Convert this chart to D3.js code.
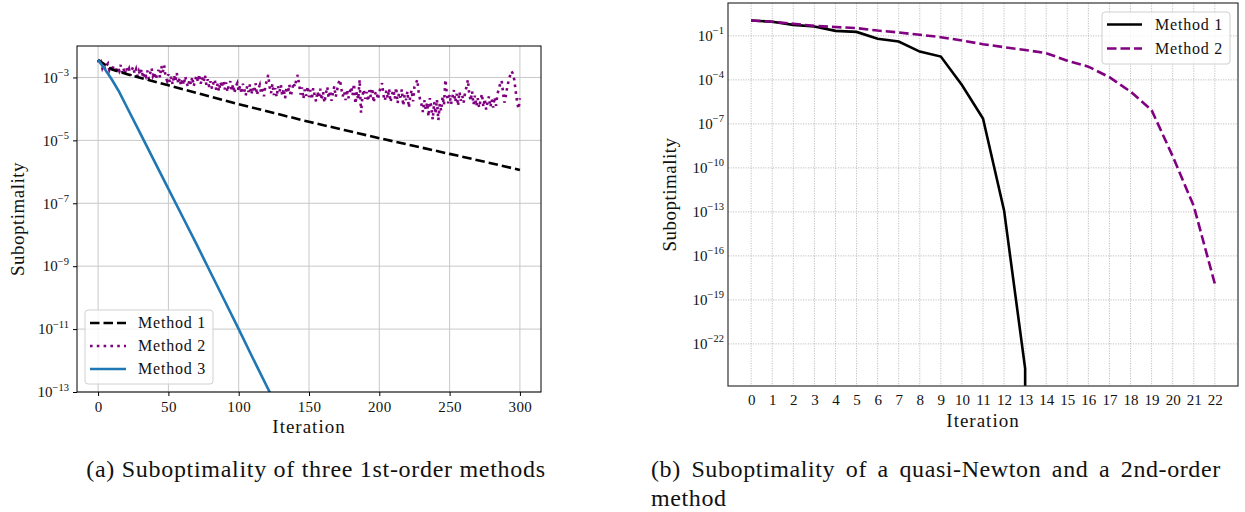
<!DOCTYPE html>
<head><meta charset="utf-8"/></head>
<style>
body { margin: 0; background: white; }
svg { display: block; }
text { font-family: "Liberation Serif", "DejaVu Serif", serif; fill: #111; }
.grid line { stroke: #c8c8c8; stroke-width: 1; }
.gridDot line { stroke: #b0b0b0; stroke-width: 0.8; stroke-dasharray: 1.2,1.3; }
</style>
<script src="https://d3js.org/d3.v7.min.js"></script>
<body>
<div id="fig"></div>
</body>
<script>

// ---- left chart data (first-order methods) ----
var leftXTicks = [0, 50, 100, 150, 200, 250, 300];
var leftYTicks = [-13, -11, -9, -7, -5, -3];   // exponents

var m1Iters = [0, 10, 25, 50, 75, 100, 125, 150, 175, 200, 225, 250, 275, 300];
var m1Log   = [-2.44, -2.75, -2.95, -3.25, -3.55, -3.85, -4.13, -4.41, -4.67, -4.93, -5.18, -5.43, -5.68, -5.94];

var m3Iters = [0, 5, 10, 15, 20, 30, 40, 50, 60, 70, 80, 90, 100, 110, 122, 130];
var m3Log   = [-2.44, -2.75, -3.08, -3.46, -3.9, -4.78, -5.66, -6.54, -7.42, -8.3, -9.2, -10.1, -11.0, -11.92, -13.0, -13.7];

// method 2: noisy, one value per iteration 0..300 (log10)
var m2Log = [
 -2.44,-2.60,-2.52,-2.70,-2.58,-2.74,-2.62,-2.56,-2.76,-2.64,
 -2.80,-2.62,-2.74,-2.86,-2.66,-2.78,-2.60,-2.84,-2.70,-2.90,
 -2.68,-2.82,-2.72,-2.94,-2.76,-2.66,-2.88,-2.74,-2.96,-2.80,
 -2.92,-2.74,-3.02,-2.84,-2.96,-2.78,-3.04,-2.88,-2.70,-2.94,
 -2.82,-3.06,-2.90,-2.76,-3.00,-2.64,-2.84,-2.62,-2.98,-3.10,
 -2.90,-3.16,-2.98,-3.22,-2.92,-3.12,-2.86,-3.20,-3.02,-3.26,
 -3.04,-3.24,-2.96,-3.18,-3.30,-3.06,-3.22,-2.98,-3.28,-3.10,
 -2.94,-3.14,-2.90,-3.20,-3.00,-3.16,-2.92,-3.24,-3.06,-3.30,
 -3.12,-3.36,-3.18,-3.06,-3.40,-3.20,-3.44,-3.14,-3.32,-3.10,
 -3.38,-3.16,-3.46,-3.24,-3.12,-3.42,-3.22,-3.50,-3.28,-3.18,
 -3.44,-3.26,-3.52,-3.20,-3.38,-3.58,-3.28,-3.46,-3.22,-3.54,
 -3.32,-3.48,-3.18,-3.56,-3.36,-3.24,-3.52,-3.30,-3.60,-3.26,
 -3.10,-2.92,-3.30,-3.50,-3.20,-3.56,-3.34,-3.62,-3.28,-3.46,
 -3.24,-3.58,-3.36,-3.66,-3.30,-3.50,-3.22,-3.60,-3.40,-3.16,
 -3.30,-3.06,-2.92,-3.24,-3.54,-3.32,-3.68,-3.38,-3.58,-3.28,
 -3.62,-3.40,-3.70,-3.34,-3.56,-3.76,-3.44,-3.64,-3.36,-3.72,
 -3.46,-3.80,-3.52,-3.30,-3.66,-3.42,-3.74,-3.50,-3.28,-3.62,
 -3.40,-3.18,-3.07,-3.36,-3.60,-3.44,-3.72,-3.38,-3.66,-3.48,
 -3.30,-3.56,-3.20,-3.84,-3.46,-3.70,-3.07,-4.12,-3.60,-3.38,
 -3.68,-3.46,-3.76,-3.40,-3.62,-3.34,-3.80,-3.52,-3.44,-3.70,
 -3.48,-3.30,-3.18,-3.58,-3.74,-3.42,-3.66,-3.36,-3.78,-3.54,
 -3.40,-3.68,-3.32,-3.82,-3.50,-3.64,-3.38,-3.90,-3.56,-3.72,
 -3.44,-3.96,-3.60,-3.40,-3.76,-3.30,-3.20,-3.07,-3.46,-3.70,
 -3.86,-4.10,-3.72,-4.02,-3.80,-4.24,-3.66,-3.94,-4.34,-3.78,
 -4.16,-3.70,-4.36,-3.84,-4.06,-3.60,-3.88,-3.07,-3.50,-3.82,
 -3.54,-3.86,-3.62,-3.40,-3.78,-3.52,-3.90,-3.46,-3.74,-3.58,
 -3.80,-3.48,-3.30,-3.07,-3.54,-3.74,-3.44,-3.86,-3.58,-3.92,
 -3.66,-3.96,-3.72,-3.52,-3.94,-3.68,-4.02,-3.76,-3.60,-3.94,
 -3.70,-3.96,-3.62,-3.90,-3.54,-3.36,-3.20,-3.10,-3.48,-3.80,
 -3.58,-3.30,-3.10,-2.94,-2.80,-2.88,-3.07,-3.44,-3.78,-4.00,-3.66
];

// ---- right chart data (quasi-Newton / 2nd order) ----
var rightXTicks = d3.range(0, 23);
var rightYTicks = [-22, -19, -16, -13, -10, -7, -4, -1];
var qnLog = [0.05, -0.04, -0.25, -0.36, -0.66, -0.73, -1.2, -1.39, -2.07, -2.41, -4.35, -6.63, -12.9, -23.68];
var qnZeroAt = 13;   // value hits exactly 0 after this (clipped on log axis)
var soLog = [0.05, -0.04, -0.18, -0.32, -0.4, -0.47, -0.64, -0.77, -0.93, -1.09, -1.32, -1.57, -1.77,
             -1.96, -2.18, -2.69, -3.1, -3.82, -4.8, -6.06, -9.2, -12.6, -17.9];

var W = 1245, H = 512;
var svg = d3.select("#fig").append("svg").attr("width", W).attr("height", H);

function supLabel(sel, e, size) {
    sel.text("");
    sel.append("tspan").text("10");
    sel.append("tspan").attr("dy", -size * 0.45).style("font-size", (size * 0.7) + "px").text("\u2212" + Math.abs(e));
}

// ================= LEFT =================
var L = {left: 77, right: 541, top: 46, bottom: 392};
var xL = d3.scaleLinear().domain([-15, 315]).range([L.left, L.right]);
var yL = d3.scaleLog().domain([1e-13, 1e-2]).range([L.bottom, L.top]);

svg.append("clipPath").attr("id", "clipL").append("rect")
    .attr("x", L.left).attr("y", L.top).attr("width", L.right - L.left).attr("height", L.bottom - L.top);

var gl = svg.append("g");
gl.append("g").attr("class", "grid").selectAll("line").data(leftXTicks).enter().append("line")
    .attr("x1", d => xL(d)).attr("x2", d => xL(d)).attr("y1", L.top).attr("y2", L.bottom);
gl.append("g").attr("class", "grid").selectAll("line").data(leftYTicks).enter().append("line")
    .attr("y1", d => yL(Math.pow(10, d))).attr("y2", d => yL(Math.pow(10, d))).attr("x1", L.left).attr("x2", L.right);

var lineL = d3.line().x(d => xL(d[0])).y(d => yL(Math.pow(10, d[1])));
var lines = gl.append("g").attr("clip-path", "url(#clipL)");

lines.append("path").datum(m2Log.map((v, i) => [i, v]))
    .attr("d", lineL).attr("fill", "none").attr("stroke", "#800080")
    .attr("stroke-width", 2.6).attr("stroke-dasharray", "2.6,4.2");
lines.append("path").datum(m1Iters.map((k, i) => [k, m1Log[i]]))
    .attr("d", lineL).attr("fill", "none").attr("stroke", "black")
    .attr("stroke-width", 2.6).attr("stroke-dasharray", "9.5,4");
lines.append("path").datum(m3Iters.map((k, i) => [k, m3Log[i]]))
    .attr("d", lineL).attr("fill", "none").attr("stroke", "#1f77b4").attr("stroke-width", 2.6);

// axes
gl.append("g").attr("transform", "translate(0," + L.bottom + ")")
    .call(d3.axisBottom(xL).tickValues(leftXTicks).tickSize(4).tickPadding(5))
    .call(g => g.select(".domain").remove())
    .selectAll("text").style("font-size", "15px").style("letter-spacing", "0.4px");
gl.append("g").attr("transform", "translate(" + L.left + ",0)")
    .call(d3.axisLeft(yL).tickValues(leftYTicks.map(e => Math.pow(10, e))).tickSize(4).tickPadding(4))
    .call(g => g.select(".domain").remove())
    .selectAll("text").style("font-size", "15px")
    .each(function(d) { supLabel(d3.select(this), Math.round(Math.log10(d)), 15); });
gl.append("rect").attr("x", L.left).attr("y", L.top).attr("width", L.right - L.left).attr("height", L.bottom - L.top)
    .attr("fill", "none").attr("stroke", "black").attr("stroke-width", 1);

gl.append("text").attr("x", (L.left + L.right) / 2).attr("y", 433).attr("text-anchor", "middle")
    .style("font-size", "19px").style("letter-spacing", "1px").text("Iteration");
gl.append("text").attr("transform", "translate(24," + (L.top + L.bottom) / 2 + ") rotate(-90)")
    .attr("text-anchor", "middle").style("font-size", "19px").style("letter-spacing", "0.5px").text("Suboptimality");

// legend
var legL = gl.append("g").attr("transform", "translate(85,310)");
legL.append("rect").attr("width", 128).attr("height", 74).attr("rx", 3)
    .attr("fill", "white").attr("fill-opacity", 0.8).attr("stroke", "#d0d0d0");
var legItemsL = [
    {name: "Method 1", color: "black", dash: "9.5,4"},
    {name: "Method 2", color: "#800080", dash: "2.6,4.2"},
    {name: "Method 3", color: "#1f77b4", dash: null}
];
legItemsL.forEach(function(it, i) {
    var y = 13 + i * 23;
    legL.append("line").attr("x1", 5).attr("x2", 41).attr("y1", y).attr("y2", y)
        .attr("stroke", it.color).attr("stroke-width", 2.6).attr("stroke-dasharray", it.dash);
    legL.append("text").attr("x", 53).attr("y", y + 5).style("font-size", "16px")
        .style("letter-spacing", "0.8px").text(it.name);
});

// ================= RIGHT =================
var R = {left: 728, right: 1238, top: 3, bottom: 386};
var xR = d3.scaleLinear().domain([-1.1, 23.1]).range([R.left, R.right]);
var yR = d3.scaleLog().domain([Math.pow(10, -24.87), Math.pow(10, 1.24)]).range([R.bottom, R.top]);

svg.append("clipPath").attr("id", "clipR").append("rect")
    .attr("x", R.left).attr("y", R.top).attr("width", R.right - R.left).attr("height", R.bottom - R.top);

var gr = svg.append("g");
gr.append("g").attr("class", "gridDot").selectAll("line").data(rightXTicks).enter().append("line")
    .attr("x1", d => xR(d)).attr("x2", d => xR(d)).attr("y1", R.top).attr("y2", R.bottom);
gr.append("g").attr("class", "gridDot").selectAll("line").data(rightYTicks).enter().append("line")
    .attr("y1", d => yR(Math.pow(10, d))).attr("y2", d => yR(Math.pow(10, d))).attr("x1", R.left).attr("x2", R.right);

// zero values are clipped to far below the axis, like a log plot does
var lineR = d3.line().x(d => xR(d[0])).y(d => d[1] === null ? R.bottom + 50 : yR(Math.pow(10, d[1])));
var linesR = gr.append("g").attr("clip-path", "url(#clipR)");
var qnPts = qnLog.map((v, i) => [i, v]);
qnPts.push([qnZeroAt, null]);
linesR.append("path").datum(qnPts)
    .attr("d", lineR).attr("fill", "none").attr("stroke", "black").attr("stroke-width", 2.6);
linesR.append("path").datum(soLog.map((v, i) => [i, v]))
    .attr("d", lineR).attr("fill", "none").attr("stroke", "#800080")
    .attr("stroke-width", 2.6).attr("stroke-dasharray", "9.5,4");

gr.append("g").attr("transform", "translate(0," + R.bottom + ")")
    .call(d3.axisBottom(xR).tickValues(rightXTicks).tickSize(0).tickPadding(8))
    .call(g => g.select(".domain").remove())
    .selectAll("text").style("font-size", "15px");
gr.append("g").attr("transform", "translate(" + R.left + ",0)")
    .call(d3.axisLeft(yR).tickValues(rightYTicks.map(e => Math.pow(10, e))).tickSize(0).tickPadding(4))
    .call(g => g.select(".domain").remove())
    .selectAll("text").style("font-size", "15px")
    .each(function(d) { supLabel(d3.select(this), Math.round(Math.log10(d)), 15); });
gr.append("rect").attr("x", R.left).attr("y", R.top).attr("width", R.right - R.left).attr("height", R.bottom - R.top)
    .attr("fill", "none").attr("stroke", "#333").attr("stroke-width", 1.2);

gr.append("text").attr("x", (R.left + R.right) / 2).attr("y", 427).attr("text-anchor", "middle")
    .style("font-size", "19px").style("letter-spacing", "1px").text("Iteration");
gr.append("text").attr("transform", "translate(676," + (R.top + R.bottom) / 2 + ") rotate(-90)")
    .attr("text-anchor", "middle").style("font-size", "19px").style("letter-spacing", "0.5px").text("Suboptimality");

var legR = gr.append("g").attr("transform", "translate(1102,12)");
legR.append("rect").attr("width", 128).attr("height", 52).attr("rx", 3)
    .attr("fill", "white").attr("fill-opacity", 0.8).attr("stroke", "#d0d0d0");
[{name: "Method 1", color: "black", dash: null}, {name: "Method 2", color: "#800080", dash: "9.5,4"}]
.forEach(function(it, i) {
    var y = 12.5 + i * 24;
    legR.append("line").attr("x1", 5).attr("x2", 40).attr("y1", y).attr("y2", y)
        .attr("stroke", it.color).attr("stroke-width", 2.6).attr("stroke-dasharray", it.dash);
    legR.append("text").attr("x", 53).attr("y", y + 5).style("font-size", "16px")
        .style("letter-spacing", "0.8px").text(it.name);
});

// ================= captions =================
svg.append("text").attr("x", 316).attr("y", 477).attr("text-anchor", "middle")
    .style("font-size", "24px").style("letter-spacing", "0.7px")
    .text("(a) Suboptimality of three 1st-order methods");
svg.append("text").attr("x", 651).attr("y", 477).style("font-size", "24px")
    .style("letter-spacing", "0.6px").style("word-spacing", "4px")
    .text("(b) Suboptimality of a quasi-Newton and a 2nd-order");
svg.append("text").attr("x", 651).attr("y", 506).style("font-size", "24px")
    .style("letter-spacing", "0.6px").text("method");

</script>
